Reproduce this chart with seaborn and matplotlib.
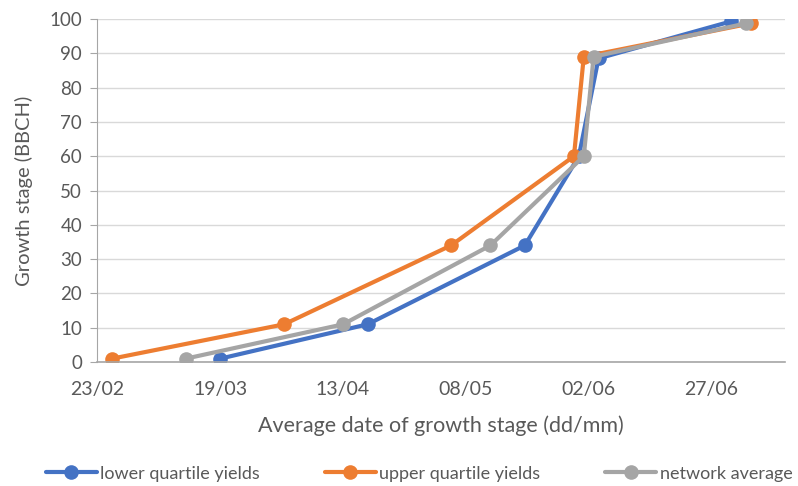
import pandas as pd
import numpy as np
import matplotlib
matplotlib.use("Agg")
import matplotlib.pyplot as plt
import matplotlib.dates as mdates
import seaborn as sns

# Data (leap year so 25-day ticks line up)
lower_dates = ["2020-03-19", "2020-04-18", "2020-05-20", "2020-05-31", "2020-06-04", "2020-07-01"]
lower_stage = [1, 11, 34, 60, 88.5, 99.3]

upper_dates = ["2020-02-26", "2020-04-01", "2020-05-05", "2020-05-30", "2020-06-01", "2020-07-05"]
upper_stage = [1, 11, 34, 60, 89, 98.7]

network_dates = ["2020-03-12", "2020-04-13", "2020-05-13", "2020-06-01", "2020-06-03", "2020-07-04"]
network_stage = [1, 11, 34, 60, 89, 98.7]

series_names = ["lower quartile yields", "upper quartile yields", "network average"]
tick_dates = ["2020-02-23", "2020-03-19", "2020-04-13", "2020-05-08", "2020-06-02", "2020-06-27"]
x_range = ["2020-02-23", "2020-07-12"]

df = pd.concat([
    pd.DataFrame({"date": pd.to_datetime(lower_dates), "stage": lower_stage, "series": series_names[0]}),
    pd.DataFrame({"date": pd.to_datetime(upper_dates), "stage": upper_stage, "series": series_names[1]}),
    pd.DataFrame({"date": pd.to_datetime(network_dates), "stage": network_stage, "series": series_names[2]}),
])

sns.set_style("white")
plt.rcParams["font.family"] = ["Lato", "DejaVu Sans"]

colors = ["#4472C4", "#ED7D31", "#A5A5A5"]

fig, ax = plt.subplots(figsize=(7.98, 4.86), dpi=100)
fig.subplots_adjust(left=0.122, right=0.984, top=0.961, bottom=0.255)

sns.lineplot(data=df, x="date", y="stage", hue="series", palette=colors,
             hue_order=series_names, marker="o", markersize=10.5, markeredgewidth=0,
             linewidth=3, estimator=None, sort=False, ax=ax)

ax.set_ylim(0, 100)
ax.set_yticks(range(0, 101, 10))
ax.set_xlim(pd.to_datetime(x_range[0]), pd.to_datetime(x_range[1]))
ax.set_xticks(pd.to_datetime(tick_dates))
ax.xaxis.set_major_formatter(mdates.DateFormatter("%d/%m"))

ax.grid(axis="y", color="#d9d9d9", linewidth=1)
ax.set_axisbelow(True)
for s in ["top", "right"]:
    ax.spines[s].set_visible(False)
ax.spines["left"].set_color("#a6a6a6")
ax.spines["bottom"].set_color("#a6a6a6")
ax.spines["bottom"].set_linewidth(1.2)

ax.tick_params(axis="y", left=True, length=5, color="#a6a6a6", labelsize=13.5, labelcolor="#595959", pad=6)
ax.tick_params(axis="x", bottom=False, labelsize=14, labelcolor="#595959", pad=10)

ax.set_xlabel("Average date of growth stage (dd/mm)", fontsize=15.5, color="#595959", labelpad=13)
ax.set_ylabel("Growth stage (BBCH)", fontsize=14.5, color="#595959", labelpad=12)

ax.legend(loc="upper center", bbox_to_anchor=(0.468, -0.255), ncol=3, frameon=False,
          fontsize=13, labelcolor="#595959", handlelength=2.8, handletextpad=0.2,
          columnspacing=3.6)

plt.savefig("out.png", dpi=100)
